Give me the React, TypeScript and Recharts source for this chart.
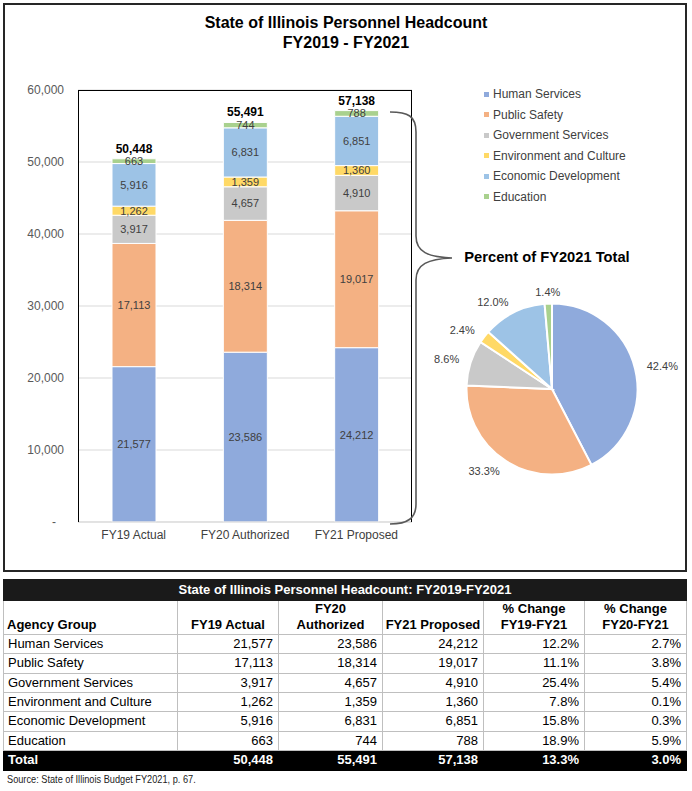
import React from "react";
import { BarChart, Bar, XAxis, YAxis, CartesianGrid, LabelList, PieChart, Pie, Cell } from "recharts";

const categories = ["FY19 Actual", "FY20 Authorized", "FY21 Proposed"];
const groups = ["Human Services", "Public Safety", "Government Services", "Environment and Culture", "Economic Development", "Education"];
const humanServices = [21577, 23586, 24212];
const publicSafety = [17113, 18314, 19017];
const governmentServices = [3917, 4657, 4910];
const environmentCulture = [1262, 1359, 1360];
const economicDevelopment = [5916, 6831, 6851];
const education = [663, 744, 788];
const changeFY19FY21 = [12.2, 11.1, 25.4, 7.8, 15.8, 18.9];
const changeFY20FY21 = [2.7, 3.8, 5.4, 0.1, 0.3, 5.9];
const totalChangeFY19FY21 = 13.3;
const totalChangeFY20FY21 = 3.0;
const yTicks = [0, 10000, 20000, 30000, 40000, 50000, 60000];

const keys = ["hs", "ps", "gs", "ec", "ed", "edu"];
const colors = ["#8FAADC", "#F4B183", "#C9C9C9", "#FFD966", "#9DC3E6", "#A9D18E"];
const series = [humanServices, publicSafety, governmentServices, environmentCulture, economicDevelopment, education];

const fmt = (v: number) => v.toLocaleString("en-US");

const barData = categories.map((name, i) => {
    const row: any = { name };
    keys.forEach((k, j) => (row[k] = series[j][i]));
    row.total = series.reduce((s, arr) => s + arr[i], 0);
    return row;
});

const pieData = groups.map((name, j) => ({ name, value: series[j][2] }));

const FONT = '"Liberation Sans", Arial, sans-serif';

const YTick = ({ x, y, payload }: any) => (
    <text x={payload.value === 0 ? x - 8 : x} y={y} dy={4} textAnchor="end" fontSize={12} fill="#595959" fontFamily={FONT}>
        {payload.value === 0 ? "-" : fmt(payload.value)}
    </text>
);

const RAD = Math.PI / 180;
const pieLabel = ({ cx, cy, midAngle, outerRadius, percent }: any) => {
    const r = outerRadius + 12;
    const c = Math.cos(midAngle * RAD);
    const s = Math.sin(midAngle * RAD);
    const x = cx + r * c;
    const y = cy - r * s;
    const anchor = c > 0.15 ? "start" : c < -0.15 ? "end" : "middle";
    return (
        <text x={x} y={y} dy={4} textAnchor={anchor} fontSize={11} fill="#404040" fontFamily={FONT}>
            {(percent * 100).toFixed(1)}%
        </text>
    );
};

const cellBorder = "1px solid #BFBFBF";
const colWidths = [174, 101, 104, 101, 101, 102];

export default function App() {
    const td: React.CSSProperties = { border: cellBorder, padding: "0 5px 0 4px", lineHeight: "16px", textAlign: "right", whiteSpace: "nowrap", overflow: "hidden" };
    const th: React.CSSProperties = { border: cellBorder, padding: "0 1px 1px", fontWeight: "bold", verticalAlign: "bottom", textAlign: "center", lineHeight: "16px", whiteSpace: "nowrap" };
    const tot: React.CSSProperties = { ...td, border: "1px solid #000" };
    return (
        <div style={{ position: "relative", width: 692, height: 791, fontFamily: FONT, background: "#fff" }}>
            <style>{`body{margin:0}`}</style>
            <div style={{ position: "absolute", left: 3, top: 3, width: 684, height: 569, border: "2px solid #262626", boxSizing: "border-box" }} />
            <div style={{ position: "absolute", left: 0, top: 13, width: 692, textAlign: "center", fontWeight: "bold", fontSize: 16, lineHeight: "20px", color: "#000" }}>
                State of Illinois Personnel Headcount
                <br />
                FY2019 - FY2021
            </div>

            <div style={{ position: "absolute", left: 0, top: 0 }}>
                <BarChart width={420} height={560} data={barData} margin={{ top: 90, right: 8, bottom: 8, left: 0 }}>
                    <CartesianGrid vertical={false} stroke="#D9D9D9" />
                    <XAxis dataKey="name" height={30} axisLine={{ stroke: "#D9D9D9" }} tickLine={false}
                        tick={{ fontSize: 12, fill: "#404040", fontFamily: FONT }} />
                    <YAxis width={78} domain={[0, 60000]} ticks={yTicks} axisLine={false} tickLine={false} tickMargin={8}
                        tick={<YTick />} />
                    {keys.map((k, j) => (
                        <Bar key={k} dataKey={k} stackId="a" fill={colors[j]} stroke="#fff" strokeWidth={1} barSize={44} isAnimationActive={false}>
                            <LabelList dataKey={k} position="center" formatter={(v: any) => fmt(Number(v))}
                                style={{ fontSize: 11, fill: "#404040", fontFamily: FONT }} />
                            {j === keys.length - 1 && (
                                <LabelList dataKey="total" content={(p: any) => (
                                    <text x={p.x + p.width / 2} y={p.y - 6} textAnchor="middle" fontSize={12} fontWeight="bold" fill="#000" fontFamily={FONT}>
                                        {fmt(barData[p.index].total)}
                                    </text>
                                )} />
                            )}
                        </Bar>
                    ))}
                </BarChart>
            </div>

            <div style={{ position: "absolute", left: 78, top: 90, width: 334, height: 432, border: "1px solid #000", borderBottom: "none", boxSizing: "border-box", pointerEvents: "none" }} />

            <svg width={692} height={570} style={{ position: "absolute", left: 0, top: 0, pointerEvents: "none" }}>
                <path d="M 390 112 C 408 112, 416 116, 416 132 L 416 236 C 416 252, 428 257, 452 258 C 428 259, 416 264, 416 280 L 416 504 C 416 518, 408 524, 390 524"
                    fill="none" stroke="#595959" strokeWidth={1.6} />
            </svg>

            {groups.map((g, j) => (
                <div key={g} style={{ position: "absolute", left: 484, top: 86 + j * 20.5, height: 16, display: "flex", alignItems: "center", fontSize: 12, color: "#404040" }}>
                    <span style={{ width: 5, height: 5, background: colors[j], marginRight: 4 }} />
                    {g}
                </div>
            ))}

            <div style={{ position: "absolute", left: 407, top: 249, width: 280, textAlign: "center", fontSize: 14.7, fontWeight: "bold", color: "#000" }}>
                Percent of FY2021 Total
            </div>

            <div style={{ position: "absolute", left: 407, top: 244 }}>
                <PieChart width={280} height={280}>
                    <Pie data={pieData} dataKey="value" cx={140} cy={140} outerRadius={85.5} startAngle={90} endAngle={-270}
                        stroke="#fff" strokeWidth={2} label={pieLabel} labelLine={false} isAnimationActive={false}>
                        {pieData.map((d, j) => <Cell key={d.name} fill={colors[j]} />)}
                    </Pie>
                </PieChart>
            </div>

            <table style={{ position: "absolute", left: 3, top: 579, width: 683, borderCollapse: "collapse", tableLayout: "fixed", fontSize: 13, color: "#000" }}>
                <colgroup>
                    {colWidths.map((w, i) => <col key={i} style={{ width: w }} />)}
                </colgroup>
                <tbody>
                    <tr style={{ background: "#1A1A1A", color: "#fff", height: 21 }}>
                        <td colSpan={6} style={{ textAlign: "center", fontWeight: "bold", padding: 0, lineHeight: "16px", border: "1px solid #1A1A1A" }}>
                            State of Illinois Personnel Headcount: FY2019-FY2021
                        </td>
                    </tr>
                    <tr style={{ height: 34 }}>
                        <td style={{ ...th, textAlign: "left", paddingLeft: 3 }}>Agency Group</td>
                        <td style={th}>FY19 Actual</td>
                        <td style={th}>FY20<br />Authorized</td>
                        <td style={th}>FY21 Proposed</td>
                        <td style={th}>% Change<br />FY19-FY21</td>
                        <td style={th}>% Change<br />FY20-FY21</td>
                    </tr>
                    {groups.map((g, j) => (
                        <tr key={g} style={{ height: 19.33 }}>
                            <td style={{ ...td, textAlign: "left" }}>{g}</td>
                            <td style={td}>{fmt(series[j][0])}</td>
                            <td style={td}>{fmt(series[j][1])}</td>
                            <td style={td}>{fmt(series[j][2])}</td>
                            <td style={td}>{changeFY19FY21[j].toFixed(1)}%</td>
                            <td style={td}>{changeFY20FY21[j].toFixed(1)}%</td>
                        </tr>
                    ))}
                    <tr style={{ background: "#000", color: "#fff", fontWeight: "bold", height: 20 }}>
                        <td style={{ ...tot, textAlign: "left" }}>Total</td>
                        {categories.map((c, i) => (
                            <td key={c} style={tot}>{fmt(barData[i].total)}</td>
                        ))}
                        <td style={tot}>{totalChangeFY19FY21.toFixed(1)}%</td>
                        <td style={tot}>{totalChangeFY20FY21.toFixed(1)}%</td>
                    </tr>
                </tbody>
            </table>

            <div style={{ position: "absolute", left: 7, top: 773, fontSize: 11.5, color: "#222", whiteSpace: "nowrap", transform: "scaleX(0.8)", transformOrigin: "left center" }}>
                Source: State of Illinois Budget FY2021, p. 67.
            </div>
        </div>
    );
}
